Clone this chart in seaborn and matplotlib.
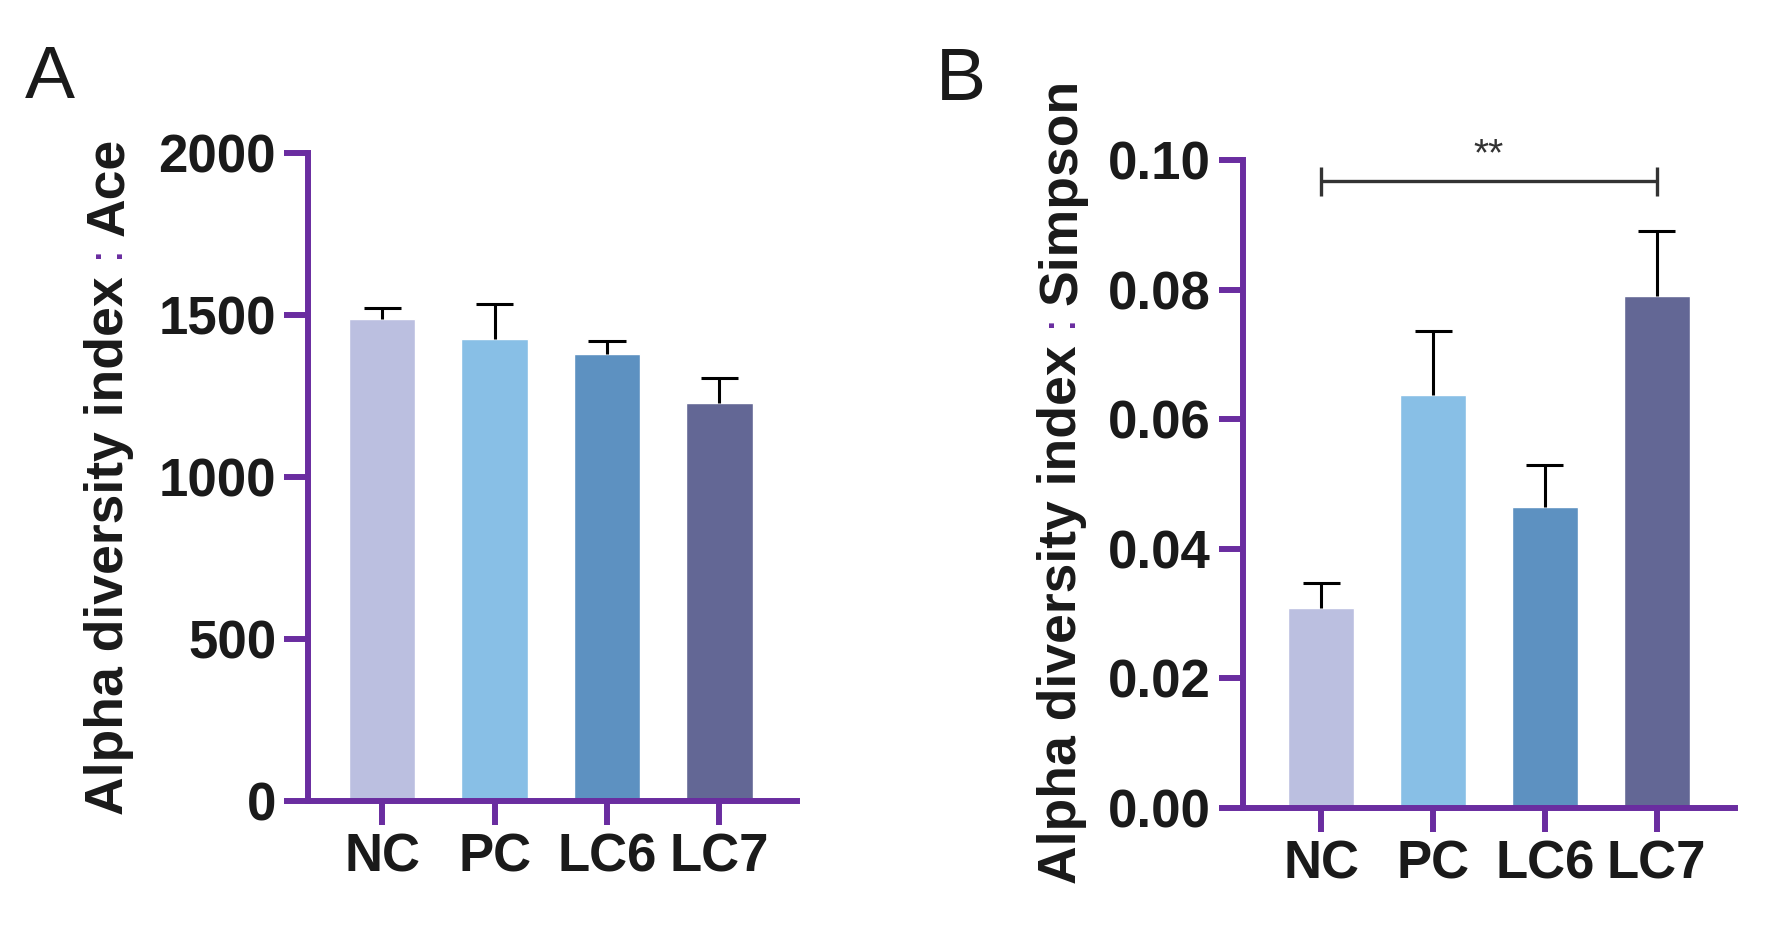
import matplotlib
matplotlib.use("Agg")
import matplotlib.pyplot as plt
import seaborn as sns

# Data
groups = ["NC", "PC", "LC6", "LC7"]
ace_mean = [1487, 1427, 1379, 1229]
ace_upper = [1523, 1535, 1420, 1306]
simpson_mean = [0.0308, 0.0638, 0.0465, 0.0790]
simpson_upper = [0.0347, 0.0736, 0.0529, 0.0891]
ace_ticks = [0, 500, 1000, 1500, 2000]
simpson_ticks = [0.00, 0.02, 0.04, 0.06, 0.08, 0.10]
simpson_ticklabels = ["0.00", "0.02", "0.04", "0.06", "0.08", "0.10"]
sig_pair = (0, 3)
sig_y = 0.0967
sig_label = "**"

bar_colors = ["#BBBFE0", "#88BFE6", "#5D91C1", "#636795"]
PURPLE = "#6A2DA0"
INK = "#1a1a1a"

sns.set_style("ticks")
plt.rcParams["font.family"] = ["Liberation Sans", "DejaVu Sans"]
plt.rcParams["text.color"] = INK

W, H = 1790, 946
fig = plt.figure(figsize=(W / 100, H / 100), dpi=100)


def px_axes(left, top, right, bottom):
    return fig.add_axes([left / W, 1 - bottom / H, (right - left) / W, (bottom - top) / H])


ax_a = px_axes(308, 153, 797, 801)
ax_b = px_axes(1243, 160, 1735, 808)


def draw_panel(ax, means, uppers, ylim, xlim):
    sns.barplot(x=groups, y=means, hue=groups, palette=bar_colors, legend=False,
                width=0.59, saturation=1, errorbar=None, ax=ax, zorder=2)
    xs = list(range(len(groups)))
    ax.vlines(xs, means, uppers, color="black", lw=2.2, zorder=3)
    ax.hlines(uppers, [x - 0.165 for x in xs], [x + 0.165 for x in xs],
              color="black", lw=2.2, zorder=3)
    ax.set_ylim(*ylim)
    ax.set_xlim(*xlim)
    sns.despine(ax=ax)
    for side in ["left", "bottom"]:
        ax.spines[side].set_color(PURPLE)
        ax.spines[side].set_linewidth(4.3)
    ax.tick_params(axis="both", direction="out", length=17, width=4.3, color=PURPLE,
                   labelsize=38, pad=6, labelcolor=INK)
    for lab in ax.get_xticklabels() + ax.get_yticklabels():
        lab.set_fontweight("bold")
    ax.set_xlabel("")
    ax.set_ylabel("")


draw_panel(ax_a, ace_mean, ace_upper, (0, 2000), (-0.66, 3.69))
ax_a.set_yticks(ace_ticks)
ax_a.set_yticklabels([str(t) for t in ace_ticks], fontweight="bold")

draw_panel(ax_b, simpson_mean, simpson_upper, (0, 0.10), (-0.70, 3.70))
ax_b.set_yticks(simpson_ticks)
ax_b.set_yticklabels(simpson_ticklabels, fontweight="bold")

# significance bracket
ax_b.hlines(sig_y, sig_pair[0], sig_pair[1], color="#333333", lw=2.4, clip_on=False)
ax_b.vlines(sig_pair, sig_y - 0.0022, sig_y + 0.0022, color="#333333", lw=2.4, clip_on=False)
ax_b.text(sum(sig_pair) / 2, sig_y + 0.0012, sig_label, ha="center", va="bottom",
          fontsize=28, color="#333333", clip_on=False)

# panel letters
fig.text(25 / W, 1 - 98 / H, "A", fontsize=54, ha="left", va="baseline")
fig.text(936 / W, 1 - 100 / H, "B", fontsize=54, ha="left", va="baseline")


# y labels with a purple colon
def rotated_label(x_px, y_px, pieces):
    fig.canvas.draw()
    inv = fig.transFigure.inverted()
    y_disp = H - y_px
    for txt, color, size, weight in pieces:
        fx, fy = inv.transform((x_px, y_disp))
        t = fig.text(fx, fy, txt, rotation=90, rotation_mode="anchor", ha="left",
                     va="baseline", fontsize=size, fontweight=weight, color=color)
        fig.canvas.draw()
        y_disp = t.get_window_extent().y1


rotated_label(123, 815, [("Alpha diversity index", INK, 38.5, "bold"),
                         (" : ", PURPLE, 35, "normal"),
                         ("Ace", INK, 38.5, "bold")])
rotated_label(1076, 884, [("Alpha diversity index", INK, 38.5, "bold"),
                          (" : ", PURPLE, 35, "normal"),
                          ("Simpson", INK, 38.5, "bold")])

fig.savefig("out.png", dpi=100)
